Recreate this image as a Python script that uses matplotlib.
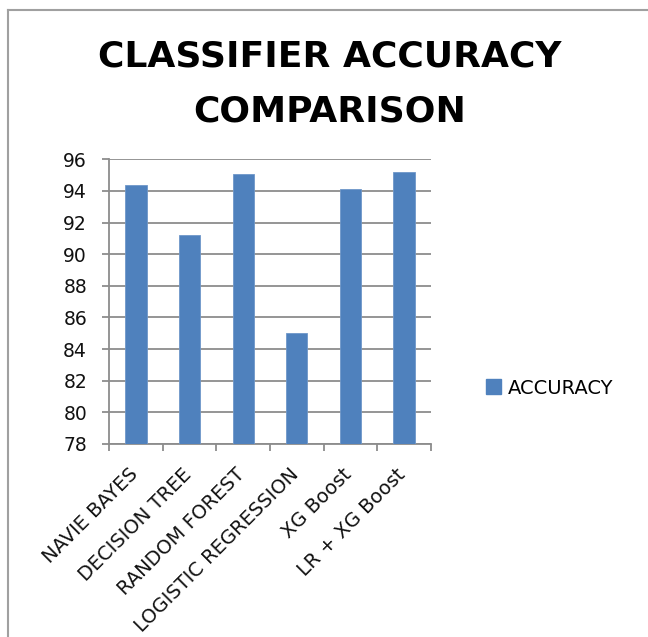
import matplotlib
matplotlib.use("Agg")
import matplotlib.pyplot as plt
from matplotlib.patches import Patch
from matplotlib.lines import Line2D
from matplotlib.transforms import ScaledTranslation

categories = ["NAVIE BAYES", "DECISION TREE", "RANDOM FOREST",
              "LOGISTIC REGRESSION", "XG Boost", "LR + XG Boost"]
accuracy = [94.4, 91.2, 95.05, 85.0, 94.1, 95.2]
yticks = [78, 80, 82, 84, 86, 88, 90, 92, 94, 96]
series_name = "ACCURACY"
title = "CLASSIFIER ACCURACY\nCOMPARISON"

plt.rcParams['font.family'] = ['DejaVu Sans']

W, H = 648, 637
fig = plt.figure(figsize=(W / 100, H / 100), dpi=100)
fig.patch.set_facecolor("white")

# chart area border (left and top visible)
fig.add_artist(Line2D([7.5 / W, 7.5 / W], [0, 1 - 10 / H], transform=fig.transFigure,
                      color="#a0a0a0", lw=1.5))
fig.add_artist(Line2D([7.5 / W, 1], [1 - 10 / H, 1 - 10 / H], transform=fig.transFigure,
                      color="#a0a0a0", lw=1.5))

left, right, top, bottom = 109.3, 430.7, 159.3, 444.0
ax = fig.add_axes([left / W, 1 - bottom / H, (right - left) / W, (bottom - top) / H])

x = list(range(len(categories)))
ax.bar(x, accuracy, width=0.4, color="#4F81BD", edgecolor="#6f97c9", linewidth=0.6,
       zorder=3)
ax.set_xlim(-0.5, len(categories) - 0.5)
ax.set_ylim(78, 96)
ax.set_yticks(yticks)
ax.set_yticklabels([str(v) for v in yticks], fontsize=13.5)
ax.yaxis.grid(True, color="#8c8c8c", linewidth=1.3, zorder=0)
ax.set_axisbelow(True)

for s in ["top", "right"]:
    ax.spines[s].set_visible(False)
for s in ["left", "bottom"]:
    ax.spines[s].set_color("#8c8c8c")
    ax.spines[s].set_linewidth(1.3)

ax.tick_params(axis="y", length=5, width=1.3, color="#8c8c8c", pad=11, labelcolor="#111111")
# category boundary ticks
ax.set_xticks([i - 0.5 for i in range(len(categories) + 1)])
ax.set_xticklabels([])
ax.tick_params(axis="x", length=5, width=1.3, color="#8c8c8c")
ax.set_xticks(x, minor=True)
ax.set_xticklabels(categories, minor=True, rotation=45, ha="right",
                   rotation_mode="anchor", fontsize=14, color="#111111")
ax.tick_params(axis="x", which="minor", length=0, pad=15)
shift = ScaledTranslation(-8 / 100, 0, fig.dpi_scale_trans)
for lab in ax.get_xticklabels(minor=True):
    lab.set_transform(lab.get_transform() + shift)

fig.text(330 / W, 1 - 84 / H, title, ha="center", va="center",
         fontsize=26, fontweight="bold", linespacing=1.78)

fig.legend(handles=[Patch(facecolor="#4F81BD", edgecolor="#4F81BD", label=series_name)],
           loc="center left", bbox_to_anchor=(468 / W, 1 - 388 / H), frameon=False,
           fontsize=14, handlelength=0.8, handleheight=0.8, handletextpad=0.35)

fig.savefig("out.png", dpi=100)
